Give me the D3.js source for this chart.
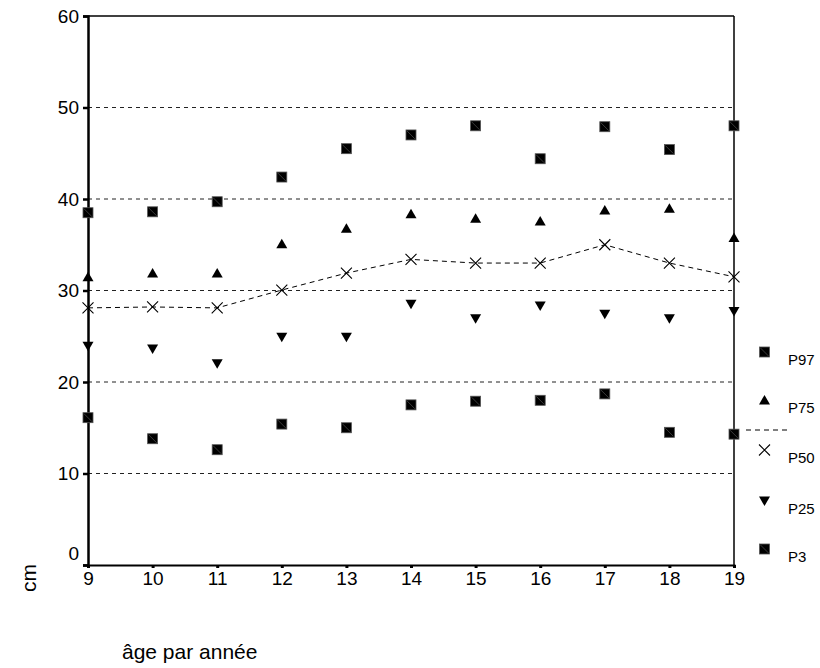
<!DOCTYPE html>
<html><head><meta charset="utf-8">
<script src="https://cdn.jsdelivr.net/npm/d3@7/dist/d3.min.js"></script>
<style>body{margin:0;background:#fff}svg{display:block}text{font-family:Arial,"Liberation Sans",sans-serif;fill:#000}</style>
</head><body><svg id="c" width="820" height="668"></svg>
<script>
const ages = [9,10,11,12,13,14,15,16,17,18,19];
const p97 = [38.5,38.6,39.7,42.4,45.5,47.0,48.0,44.4,47.9,45.4,48.0];
const p75 = [31.5,31.9,31.9,35.1,36.8,38.4,37.9,37.6,38.8,39.0,35.8];
const p50 = [28.1,28.2,28.1,30.05,31.9,33.4,33.0,33.0,35.0,33.0,31.5];
const p25 = [23.9,23.6,22.0,24.9,24.9,28.5,26.9,28.3,27.4,26.9,27.7];
const p3  = [16.1,13.8,12.6,15.4,15.0,17.5,17.9,18.0,18.7,14.5,14.3];
const yTicks = [0,10,20,30,40,50,60];
const gridVals = [10,20,30,40,50];
const seriesNames = ["P97","P75","P50","P25","P3"];

const svg = d3.select("#c");
const x = d3.scaleLinear().domain([9,19]).range([88,734]);
const y = d3.scaleLinear().domain([0,60]).range([565,16]);
const FF = "Arial, 'Liberation Sans', sans-serif";

// gridlines
svg.append("g").selectAll("line").data(gridVals).join("line")
  .attr("x1",x(9)).attr("x2",x(19)).attr("y1",d=>y(d)).attr("y2",d=>y(d))
  .attr("stroke","#222").attr("stroke-width",1).attr("stroke-dasharray","4,4");

// top and right borders
svg.append("line").attr("x1",x(9)).attr("x2",x(19)).attr("y1",y(60)).attr("y2",y(60)).attr("stroke","#000").attr("stroke-width",1.5);
svg.append("line").attr("x1",x(19)).attr("x2",x(19)).attr("y1",y(60)).attr("y2",y(0)).attr("stroke","#000").attr("stroke-width",1.5);

// y axis
const ya = d3.axisLeft(y).tickValues(yTicks).tickSize(5).tickPadding(4);
const gy = svg.append("g").attr("transform",`translate(${x(9)},0)`).call(ya);
gy.select(".domain").attr("stroke","#000").attr("stroke-width",2.5);
gy.selectAll(".tick line").attr("stroke","#000").attr("stroke-width",2.5);
gy.selectAll(".tick text").attr("font-size",19).attr("font-family",FF)
  .attr("dy",(d)=> d===0 ? "-0.3em" : "0.32em");

// x axis
const xa = d3.axisBottom(x).tickValues(ages).tickSize(3).tickPadding(4).tickFormat(d3.format("d"));
const gx = svg.append("g").attr("transform",`translate(0,${y(0)})`).call(xa);
gx.select(".domain").attr("stroke","#000").attr("stroke-width",2);
gx.selectAll(".tick line").attr("stroke","#000").attr("stroke-width",3);
gx.selectAll(".tick text").attr("font-size",19).attr("font-family",FF);

// P50 dashed line
const line = d3.line().x((d,i)=>x(ages[i])).y(d=>y(d));
svg.append("path").attr("d",line(p50)).attr("fill","none").attr("stroke","#000").attr("stroke-width",1).attr("stroke-dasharray","5,4");

function drawSquare(g, cx, cy){
  g.append("rect").attr("x",cx-5).attr("y",cy-5).attr("width",10).attr("height",10).attr("fill","#000").attr("stroke","#555").attr("stroke-width",0.8);
  g.append("line").attr("x1",cx-4).attr("y1",cy-4).attr("x2",cx+4).attr("y2",cy+4).attr("stroke","#777").attr("stroke-width",0.5);
}
function drawUp(g,cx,cy){
  g.append("path").attr("d",`M${cx},${cy-5}L${cx+5.5},${cy+4.5}L${cx-5.5},${cy+4.5}Z`).attr("fill","#000");
}
function drawDown(g,cx,cy){
  g.append("path").attr("d",`M${cx-5.5},${cy-4.5}L${cx+5.5},${cy-4.5}L${cx},${cy+5}Z`).attr("fill","#000");
}
function drawX(g,cx,cy){
  g.append("path").attr("d",`M${cx-5.5},${cy-5.5}L${cx+5.5},${cy+5.5}M${cx+5.5},${cy-5.5}L${cx-5.5},${cy+5.5}`).attr("stroke","#000").attr("stroke-width",1.1).attr("fill","none");
}
const mk = svg.append("g");
const series = [[p97,drawSquare],[p75,drawUp],[p50,drawX],[p25,drawDown],[p3,drawSquare]];
series.forEach(([vals,fn])=>{
  vals.forEach((v,i)=>fn(mk, x(ages[i]), y(v)));
});

// legend
const lg = svg.append("g");
const legY = [352,400,450,501,549];
const legFns = [drawSquare,drawUp,drawX,drawDown,drawSquare];
seriesNames.forEach((n,i)=>{
  legFns[i](lg,764.5,legY[i]);
  lg.append("text").attr("x",788).attr("y",legY[i]+13).attr("font-size",15).text(n);
});
lg.append("line").attr("x1",746).attr("x2",790).attr("y1",430).attr("y2",430).attr("stroke","#000").attr("stroke-width",1).attr("stroke-dasharray","5,4");

// axis titles
svg.append("text").attr("transform","translate(36,578) rotate(-90)").attr("text-anchor","middle").attr("font-size",21).text("cm");
svg.append("text").attr("x",122).attr("y",659).attr("font-size",21).text("âge par année");
</script></body></html>
